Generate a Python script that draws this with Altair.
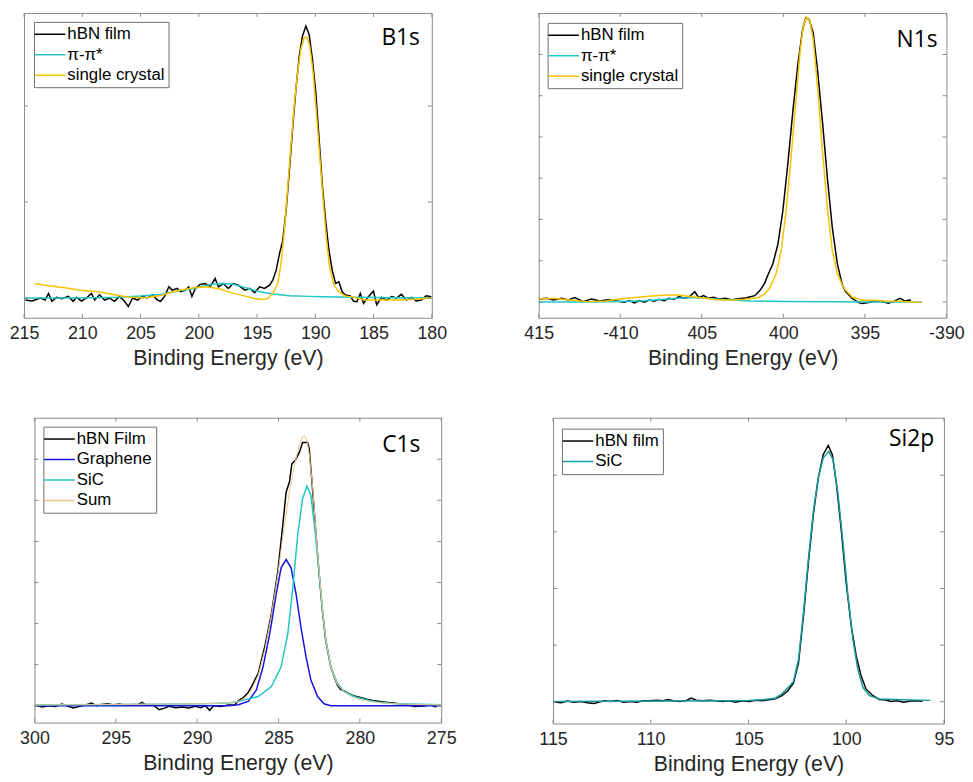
import altair as alt
import pandas as pd

XTITLE = "Binding Energy (eV)"
FONT = "Liberation Sans"
TAGFONT = "Open Sans"
TXT = "#262626"
FRAME = "#8a8a8a"
LEG_STROKE = "#6e6e6e"
TICK = 4

# ---------------- B1s ----------------
b1s_tag = "B1s"
b1s_names = ["hBN film", "π-π*", "single crystal"]
b1s_colors = ["#000000", "#1ec8c8", "#f5c200"]
b1s_xticks = [215, 210, 205, 200, 195, 190, 185, 180]
b1s_yticks = [0, 1, 2]
b1s_film_be = [214.89, 214.32, 213.6, 213.19, 212.9, 212.62, 212.2, 211.77, 211.2, 210.78, 210.5, 210.07, 209.65, 209.22, 208.94, 208.52, 208.09, 207.67, 207.24, 206.82, 206.39, 206.05, 205.68, 205.26, 204.83, 204.41, 203.98, 203.56, 203.28, 202.94, 202.57, 202.28, 201.86, 201.58, 201.15, 200.87, 200.59, 200.3, 199.88, 199.45, 199.03, 198.6, 198.32, 197.9, 197.47, 197.05, 196.62, 196.05, 195.63, 195.21, 194.78, 194.36, 193.93, 193.65, 193.36, 193.08, 192.8, 192.51, 192.23, 191.95, 191.66, 191.38, 191.1, 190.81, 190.53, 190.25, 189.96, 189.68, 189.4, 189.11, 188.83, 188.55, 188.26, 187.98, 187.7, 187.41, 186.99, 186.71, 186.43, 186.14, 185.86, 185.44, 185.01, 184.73, 184.31, 183.88, 183.46, 183.03, 182.61, 182.18, 181.76, 181.33, 180.91, 180.48, 180.04]
b1s_film_int = [-0.021, -0.031, 0.0, -0.021, 0.048, -0.034, 0.007, -0.007, 0.017, -0.034, 0.007, -0.031, 0.0, 0.048, -0.021, 0.034, -0.021, 0.0, -0.034, 0.017, -0.031, -0.089, 0.0, -0.021, 0.017, 0.0, 0.034, -0.021, -0.034, 0.017, 0.117, 0.082, 0.1, 0.065, 0.082, 0.117, 0.017, 0.1, 0.141, 0.151, 0.117, 0.203, 0.117, 0.151, 0.1, 0.151, 0.134, 0.082, 0.1, 0.055, 0.117, 0.1, 0.134, 0.186, 0.29, 0.46, 0.598, 0.907, 1.32, 1.766, 2.18, 2.52, 2.73, 2.832, 2.746, 2.49, 2.144, 1.663, 1.18, 0.804, 0.495, 0.29, 0.151, 0.168, 0.065, 0.031, 0.021, -0.034, -0.038, 0.048, -0.055, 0.014, 0.072, -0.072, 0.007, -0.021, 0.014, 0.0, 0.038, -0.021, 0.007, -0.031, -0.021, 0.024, 0.014]
b1s_pi_be = [215, 212, 209, 207, 205, 203.28, 201.86, 200.45, 199.31, 198.5, 197.9, 197.05, 196.48, 195.9, 195.06, 194.3, 193.65, 192.23, 190.5, 189.4, 186.57, 183, 180]
b1s_pi_int = [0.0, 0.0, 0.003, 0.008, 0.02, 0.037, 0.072, 0.1, 0.134, 0.148, 0.152, 0.144, 0.124, 0.105, 0.075, 0.055, 0.041, 0.024, 0.017, 0.014, 0.007, 0.003, 0.0]
b1s_sc_be = [214.09, 212.9, 211.49, 210.24, 208.66, 207.24, 206.11, 204.69, 203.28, 201.86, 200.45, 199.31, 198.18, 197.05, 195.91, 195.2, 194.78, 194.36, 194.07, 193.65, 193.22, 192.94, 192.66, 192.37, 192.09, 191.81, 191.52, 191.24, 190.96, 190.73, 190.48, 190.19, 189.91, 189.63, 189.34, 189.06, 188.78, 188.41, 187.98, 187.42, 186.71, 185.72, 182.89, 181.47, 180.06]
b1s_sc_int = [0.151, 0.127, 0.107, 0.082, 0.065, 0.034, 0.01, 0.0, 0.027, 0.075, 0.107, 0.117, 0.093, 0.048, 0.017, -0.005, -0.012, -0.01, -0.005, 0.048, 0.151, 0.357, 0.7, 1.147, 1.594, 2.007, 2.35, 2.591, 2.711, 2.72, 2.625, 2.35, 1.938, 1.491, 1.045, 0.632, 0.323, 0.134, 0.065, 0.021, 0.007, -0.021, -0.021, -0.014, 0.0]

# ---------------- N1s ----------------
n1s_tag = "N1s"
n1s_names = ["hBN film", "π-π*", "single crystal"]
n1s_colors = ["#000000", "#1ec8c8", "#f5c200"]
n1s_xticks = [415, 410, 405, 400, 395, 390]
n1s_yticks = [0, 1, 2, 3, 4, 5, 6]
n1s_film_be = [415, 414.5, 414.09, 413.59, 413.18, 412.78, 412.27, 411.77, 411.26, 410.75, 410.25, 409.74, 409.44, 409.13, 408.83, 408.53, 408.22, 407.92, 407.62, 407.31, 407.01, 406.7, 406.4, 406.1, 405.8, 405.43, 405.19, 404.89, 404.58, 404.28, 403.97, 403.57, 403.17, 402.76, 402.26, 401.75, 401.45, 401.15, 400.94, 400.64, 400.33, 400.03, 399.73, 399.42, 399.12, 398.82, 398.62, 398.42, 398.17, 397.91, 397.6, 397.3, 397.0, 396.69, 396.39, 396.19, 395.78, 395.38, 395.18, 394.78, 394.37, 393.96, 393.56, 393.26, 392.85, 392.55, 392.24, 392.18]
n1s_film_int = [0.072, 0.088, 0.048, 0.088, 0.048, 0.104, 0.008, 0.072, 0.024, 0.056, 0.024, -0.008, 0.032, -0.024, 0.032, -0.008, 0.048, 0.016, 0.064, 0.032, 0.088, 0.064, 0.128, 0.088, 0.112, 0.248, 0.104, 0.152, 0.088, 0.112, 0.072, 0.088, 0.056, 0.08, 0.1, 0.152, 0.27, 0.45, 0.66, 0.928, 1.408, 2.208, 3.328, 4.608, 5.728, 6.608, 6.888, 6.848, 6.528, 5.648, 4.368, 3.008, 1.808, 0.928, 0.42, 0.26, 0.088, -0.016, -0.04, -0.016, 0.024, 0.008, -0.032, 0.008, 0.088, 0.024, 0.048, 0.04]
n1s_pi_be = [415, 412, 410, 408.5, 407.5, 406.5, 405.7, 405, 404.2, 403.2, 402, 400, 397, 394, 391.5]
n1s_pi_int = [0.0, 0.0, 0.01, 0.03, 0.06, 0.09, 0.105, 0.095, 0.07, 0.045, 0.025, 0.012, 0.005, 0.0, 0.0]
n1s_sc_be = [415, 414.09, 413.1, 412.07, 410.85, 410.04, 409.24, 408.22, 407.21, 406.4, 405.6, 404.79, 403.97, 403.17, 402.36, 401.55, 401.2, 400.84, 400.44, 400.13, 399.83, 399.53, 399.22, 398.98, 398.78, 398.58, 398.37, 398.17, 397.91, 397.6, 397.3, 397.0, 396.69, 396.39, 396.19, 395.78, 395.18, 394.37, 393.77, 392.95, 392.14, 391.54]
n1s_sc_int = [0.072, 0.088, 0.05, 0.008, 0.024, 0.072, 0.104, 0.136, 0.168, 0.168, 0.128, 0.088, 0.048, 0.048, 0.064, 0.104, 0.18, 0.33, 0.688, 1.248, 2.208, 3.488, 4.928, 6.048, 6.688, 6.91, 6.808, 6.368, 5.248, 3.648, 2.288, 1.248, 0.688, 0.408, 0.288, 0.12, 0.04, 0.04, 0.024, 0.016, 0.0, -0.016]

# ---------------- C1s ----------------
c1s_tag = "C1s"
c1s_names = ["hBN Film", "Graphene", "SiC", "Sum"]
c1s_colors = ["#000000", "#1515e0", "#20c5c5", "#eec48c"]
c1s_xticks = [300, 295, 290, 285, 280, 275]
c1s_yticks = [0, 1, 2, 3, 4, 5, 6]
c1s_film_be = [299.94, 299.53, 299.13, 298.72, 298.32, 298.01, 297.61, 297.2, 296.8, 296.49, 296.19, 295.88, 295.48, 295.17, 294.77, 294.36, 293.96, 293.65, 293.39, 293.15, 292.74, 292.34, 292.03, 291.73, 291.32, 290.92, 290.51, 290.11, 289.8, 289.5, 289.23, 288.99, 288.58, 288.08, 287.67, 287.47, 287.17, 286.9, 286.66, 286.25, 285.85, 285.44, 285.04, 284.74, 284.53, 284.33, 284.18, 283.98, 283.72, 283.52, 283.21, 283.11, 282.91, 282.71, 282.5, 282.3, 282.1, 281.79, 281.39, 281.19, 280.98, 280.7, 280.4, 279.97, 279.56, 279.2, 278.75, 278.3, 277.94, 277.5, 277.13, 276.62, 276.11, 275.7, 275.3]
c1s_film_int = [0.024, -0.032, 0.0, -0.016, 0.04, 0.0, -0.056, -0.016, 0.024, 0.064, 0.0, 0.032, 0.048, 0.016, 0.04, 0.008, 0.032, 0.024, 0.08, 0.016, 0.024, -0.096, -0.064, -0.016, -0.048, -0.032, -0.056, -0.016, -0.048, 0.0, -0.112, 0.0, -0.016, 0.016, 0.024, 0.12, 0.2, 0.3, 0.466, 0.787, 1.43, 2.233, 3.277, 4.4, 5.205, 5.446, 5.888, 5.968, 6.169, 6.41, 6.41, 6.25, 5.285, 4.24, 3.197, 2.313, 1.59, 0.948, 0.506, 0.4, 0.36, 0.3, 0.245, 0.2, 0.16, 0.13, 0.104, 0.08, 0.064, 0.045, 0.032, -0.016, -0.01, 0.02, -0.032]
c1s_gr_be = [300, 290, 288.08, 287.47, 286.86, 286.36, 285.95, 285.54, 285.14, 284.84, 284.53, 284.23, 283.92, 283.62, 283.31, 283.01, 282.6, 282.2, 281.79, 275]
c1s_gr_int = [0.0, 0.0, 0.0, 0.024, 0.105, 0.386, 0.948, 1.75, 2.715, 3.357, 3.56, 3.357, 2.715, 1.91, 1.188, 0.627, 0.225, 0.048, 0.0, 0.0]
c1s_sic_be = [300, 295, 290, 288.08, 287.47, 286.86, 286.25, 285.44, 284.84, 284.43, 284.12, 283.82, 283.52, 283.25, 283.01, 282.77, 282.5, 282.3, 282.1, 281.79, 281.39, 280.98, 280.37, 279.36, 278.95, 278, 277, 275]
c1s_sic_int = [0.02, 0.03, 0.045, 0.064, 0.105, 0.16, 0.225, 0.466, 0.948, 1.75, 2.875, 4.16, 5.04, 5.35, 5.12, 4.32, 3.2, 2.31, 1.63, 0.95, 0.55, 0.35, 0.225, 0.12, 0.09, 0.055, 0.04, 0.025]
c1s_sum_be = [300, 295, 290, 288.5, 287.8, 287.47, 287.06, 286.66, 286.25, 285.85, 285.44, 285.04, 284.74, 284.33, 284.0, 283.72, 283.52, 283.4, 283.25, 283.1, 282.91, 282.71, 282.5, 282.3, 282.1, 281.79, 281.39, 280.98, 280.47, 279.97, 279.46, 278.95, 278, 277, 275]
c1s_sum_int = [0.02, 0.03, 0.045, 0.06, 0.08, 0.1, 0.18, 0.38, 0.74, 1.35, 2.2, 3.2, 4.1, 5.2, 5.9, 6.35, 6.55, 6.57, 6.45, 6.1, 5.35, 4.3, 3.25, 2.35, 1.62, 0.95, 0.52, 0.34, 0.22, 0.15, 0.11, 0.08, 0.05, 0.035, 0.02]

# ---------------- Si2p ----------------
si_tag = "Si2p"
si_names = ["hBN film", "SiC"]
si_colors = ["#000000", "#169c9c"]
si_xticks = [115, 110, 105, 100, 95]
si_yticks = [0, 1, 2, 3, 4]
si_film_be = [114.93, 114.59, 114.26, 113.92, 113.58, 113.24, 112.91, 112.65, 112.4, 112.06, 111.73, 111.39, 111.05, 110.71, 110.38, 110.04, 109.7, 109.36, 109.11, 108.86, 108.52, 108.18, 107.93, 107.67, 107.34, 107.0, 106.66, 106.32, 105.99, 105.65, 105.31, 104.97, 104.64, 104.3, 103.96, 103.63, 103.29, 103.0, 102.7, 102.44, 102.19, 101.94, 101.68, 101.43, 101.18, 100.92, 100.71, 100.5, 100.25, 100.0, 99.74, 99.49, 99.24, 98.99, 98.65, 98.31, 97.98, 97.72, 97.4, 97.06, 96.7, 96.4, 96.1]
si_film_int = [-0.006, -0.017, 0.012, -0.006, 0.006, -0.017, -0.029, -0.006, 0.017, 0.006, 0.023, -0.006, 0.006, -0.006, 0.017, 0.017, 0.029, 0.017, 0.041, 0.017, 0.006, 0.023, 0.064, 0.029, 0.017, 0.029, 0.017, 0.006, 0.017, -0.006, 0.017, 0.006, 0.029, 0.017, 0.035, 0.052, 0.11, 0.19, 0.33, 0.693, 1.508, 2.44, 3.314, 3.953, 4.361, 4.524, 4.36, 3.84, 3.02, 2.09, 1.333, 0.809, 0.46, 0.227, 0.111, 0.041, 0.03, 0.006, 0.017, -0.006, 0.012, 0.017, 0.01]
si_sic_be = [115, 112, 109, 106, 104.97, 104.3, 103.63, 103.29, 102.96, 102.7, 102.44, 102.19, 101.94, 101.68, 101.43, 101.18, 100.89, 100.67, 100.42, 100.16, 99.91, 99.66, 99.41, 99.15, 98.81, 98.31, 97.13, 95.69]
si_sic_int = [0.006, 0.01, 0.014, 0.02, 0.023, 0.035, 0.064, 0.14, 0.256, 0.36, 0.751, 1.566, 2.5, 3.37, 3.95, 4.3, 4.42, 4.27, 3.66, 2.79, 1.86, 1.1, 0.576, 0.256, 0.111, 0.05, 0.035, 0.025]


def panel(series, names, colors, xdom, ydom, xticks, yticks, W, H,
          tag, tag_dx, tag_dy, leg_x, leg_y, label_expr=None, left_pad=None):
    xs = alt.Scale(domain=xdom, reverse=True, nice=False, zero=False)
    ys = alt.Scale(domain=ydom, nice=False, zero=False)
    axis_kw = dict(values=xticks, title=XTITLE, grid=False, domain=False, ticks=False,
                   tickSize=0, labelFont=FONT, labelFontSize=18, labelColor=TXT,
                   labelPadding=7, labelFlush=False, labelOverlap=False,
                   titleFont=FONT, titleFontSize=21.5, titleFontWeight="normal",
                   titleColor=TXT, titlePadding=5)
    if label_expr:
        axis_kw["labelExpr"] = label_expr
    xaxis = alt.Axis(**axis_kw)
    legend = alt.Legend(orient="none", legendX=leg_x, legendY=leg_y, title=None,
                        symbolType="M-3.1,0H3.1", symbolSize=100, symbolStrokeWidth=1.5,
                        symbolOffset=3.7, labelOffset=9, padding=4, rowPadding=2.7,
                        strokeColor=LEG_STROKE, fillColor="white", labelFont=FONT,
                        labelFontSize=17, labelColor="black", labelLimit=400,
                        cornerRadius=0)
    cscale = alt.Scale(domain=names, range=colors)

    layers = []
    for i, (name, be, it, sw) in enumerate(series):
        df = pd.DataFrame([{"be": a, "intensity": b, "series": name} for a, b in zip(be, it)])
        layers.append(
            alt.Chart(df).mark_line(strokeWidth=sw, clip=True).encode(
                x=alt.X("be:Q", scale=xs, axis=xaxis),
                y=alt.Y("intensity:Q", scale=ys, axis=None),
                color=alt.Color("series:N", scale=cscale, legend=legend if i == 0 else None),
            )
        )

    xt = pd.DataFrame({"be": xticks})
    yt = pd.DataFrame({"intensity": yticks})
    tx = alt.X("be:Q", scale=xs, axis=xaxis)
    ty = alt.Y("intensity:Q", scale=ys, axis=None)
    layers += [
        alt.Chart(xt).mark_rule(color=FRAME, strokeWidth=1).encode(x=tx, y=alt.value(0), y2=alt.value(TICK)),
        alt.Chart(xt).mark_rule(color=FRAME, strokeWidth=1).encode(x=tx, y=alt.value(H), y2=alt.value(H - TICK)),
        alt.Chart(yt).mark_rule(color=FRAME, strokeWidth=1).encode(y=ty, x=alt.value(0), x2=alt.value(TICK)),
        alt.Chart(yt).mark_rule(color=FRAME, strokeWidth=1).encode(y=ty, x=alt.value(W - TICK), x2=alt.value(W)),
    ]

    tag_df = pd.DataFrame({"tag": [tag]})
    layers.append(
        alt.Chart(tag_df).mark_text(align="right", baseline="alphabetic", font=TAGFONT,
                                    fontSize=23, color="black").encode(
            x=alt.value(W - tag_dx), y=alt.value(tag_dy), text="tag:N")
    )
    if left_pad is not None:
        # invisible anchor widening the panel's left bounds (used with centred rows)
        layers.append(
            alt.Chart(tag_df).mark_point(opacity=0, size=1).encode(
                x=alt.value(-left_pad), y=alt.value(H / 2))
        )
    return alt.layer(*layers).properties(width=W, height=H)


p1 = panel([(b1s_names[0], b1s_film_be, b1s_film_int, 1.5),
            (b1s_names[1], b1s_pi_be, b1s_pi_int, 1.5),
            (b1s_names[2], b1s_sc_be, b1s_sc_int, 1.5)],
           b1s_names, b1s_colors, [180, 215], [-0.206, 2.969], b1s_xticks, b1s_yticks,
           412, 308, b1s_tag, 12, 32, 10, 9)

p2 = panel([(n1s_names[0], n1s_film_be, n1s_film_int, 1.5),
            (n1s_names[1], n1s_pi_be, n1s_pi_int, 1.5),
            (n1s_names[2], n1s_sc_be, n1s_sc_int, 1.5)],
           n1s_names, n1s_colors, [390, 415], [-0.384, 7.007], n1s_xticks, n1s_yticks,
           412, 308, n1s_tag, 9, 34, 9, 10,
           label_expr="(datum.value == 410 || datum.value == 390) ? '-' + datum.label : datum.label")

p3 = panel([(c1s_names[0], c1s_film_be, c1s_film_int, 1.5),
            (c1s_names[1], c1s_gr_be, c1s_gr_int, 1.5),
            (c1s_names[2], c1s_sic_be, c1s_sic_int, 1.5),
            (c1s_names[3], c1s_sum_be, c1s_sum_int, 1.0)],
           c1s_names, c1s_colors, [275, 300], [-0.41, 7.012], c1s_xticks, c1s_yticks,
           411, 308, c1s_tag, 21, 35, 9, 9, left_pad=18.5)

p4 = panel([(si_names[0], si_film_be, si_film_int, 1.5),
            (si_names[1], si_sic_be, si_sic_int, 1.5)],
           si_names, si_colors, [95, 115], [-0.384, 5.013], si_xticks, si_yticks,
           395, 309, si_tag, 10, 29, 9, 11)

row1 = alt.hconcat(p1, p2, spacing=76).resolve_scale(color="independent")
row2 = alt.hconcat(p3, p4, spacing=82).resolve_scale(color="independent")

chart = alt.vconcat(row1, row2, spacing=48, center=True, padding=0).resolve_scale(
    color="independent"
).configure_view(stroke=FRAME, strokeWidth=1)

chart.save("out.html", embed_options={"renderer": "svg", "actions": False})
